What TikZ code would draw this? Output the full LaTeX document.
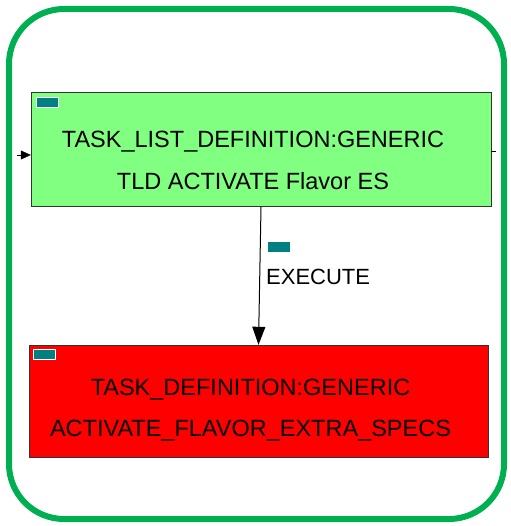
\documentclass[tikz,border=0pt]{standalone}
\usepackage{fontspec}
\setmainfont{Liberation Sans}
\usetikzlibrary{arrows.meta,positioning,calc}
\definecolor{framegreen}{HTML}{00B050}
\definecolor{tldgreen}{HTML}{80FF80}
\definecolor{markteal}{HTML}{008080}
\newcommand{\boxpad}{\hspace*{16pt}}

\begin{document}
\begin{tikzpicture}[
  x=1pt, y=-1pt,
  font=\fontsize{23.5}{28}\selectfont,
  taskbox/.style={draw=black!80, align=center, inner sep=0pt,
      minimum width=460pt, minimum height=114pt},
  marker/.style={draw=white, fill=markteal, inner sep=0pt,
      minimum width=22pt, minimum height=10pt},
  arrow/.style={-{Triangle[length=18pt, width=13pt]}, line width=1pt}
]
\useasboundingbox (0,0) rectangle (510,526);
\draw[framegreen, line width=6pt, rounded corners=55pt]
  (9,9) rectangle (504,519);
\node[taskbox, fill=tldgreen] (tld) at (261,149.5)
  {\rule{0pt}{38pt}TASK\_LIST\_DEFINITION:GENERIC\boxpad\\[14pt]
   TLD ACTIVATE Flavor ES\boxpad};
\node[taskbox, fill=red, minimum width=459pt, minimum height=112pt]
  (td) at (258.5,401)
  {\rule{0pt}{34pt}TASK\_DEFINITION:GENERIC\boxpad\\[13pt]
   ACTIVATE\_FLAVOR\_EXTRA\_SPECS\boxpad};
\node[marker, anchor=north west] (tldmark) at ($(tld.north west)+(5,5)$) {};
\node[marker, anchor=north west] (tdmark) at ($(td.north west)+(4,4)$) {};
% execute link
\draw[arrow] (tld.south) -- (td.north);
\node[marker, draw=none, anchor=north west] (execmark) at (268,242) {};
\node[anchor=west, inner sep=0pt, font=\fontsize{22}{26}\selectfont]
  (execlabel) at (266,277) {EXECUTE};
% stubs on the side
\coordinate (inlink) at (17,155);
\coordinate (outlink) at (496,151);
\draw[-{Triangle[length=10pt, width=9pt]}] (inlink) -- (tld.west |- inlink);
\draw (tld.east |- outlink) -- (outlink);
\end{tikzpicture}
\end{document}
